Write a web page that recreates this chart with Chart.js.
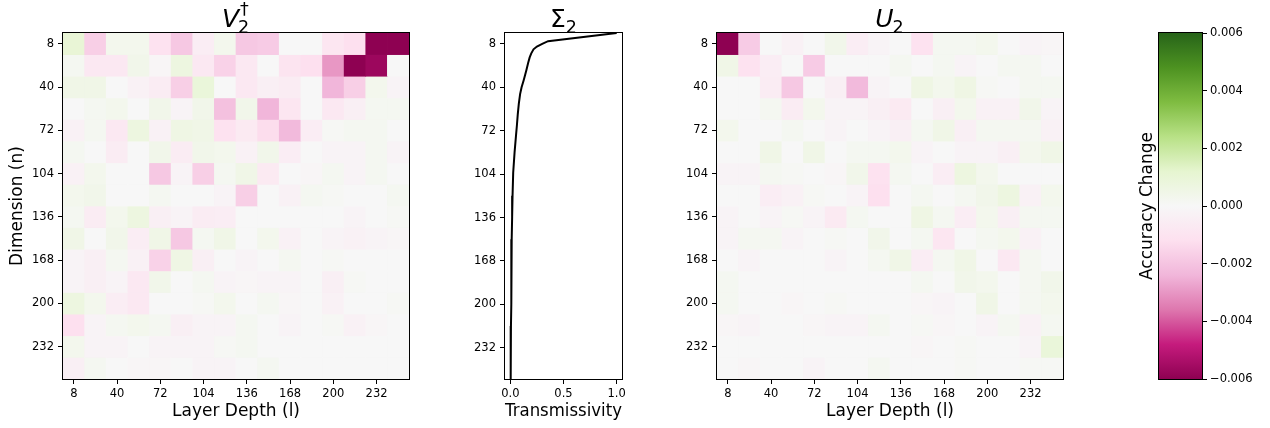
<!DOCTYPE html>
<html><head><meta charset="utf-8">
<script src="https://cdn.jsdelivr.net/npm/chart.js@4.4.1/dist/chart.umd.min.js"></script>
<style>
html,body{margin:0;padding:0;background:#fff;width:1270px;height:428px;overflow:hidden;}
canvas{position:absolute;top:0;}
</style></head><body>
<canvas id="c1" width="420" height="428" style="left:0px"></canvas>
<canvas id="c2" width="205" height="428" style="left:430px"></canvas>
<canvas id="c3" width="430" height="428" style="left:645px"></canvas>
<canvas id="c4" width="150" height="428" style="left:1120px"></canvas>
<script>
// ---------- data ----------
const layerLabels = ['8','24','40','56','72','88','104','120','136','152','168','184','200','216','232','248'];
const layerTicks = [8,40,72,104,136,168,200,232];
const dimTicks = [8,40,72,104,136,168,200,232];
const cellSize = 16;
const dimMax = 256;

// V2-dagger heatmap: rows = dimension (n), cols = layer depth (l)
const v2Rows = [
  [0.0010,-0.0017,0.0003,0.0003,-0.0011,-0.0019,-0.0005,0.0003,-0.0019,-0.0018,0,0,-0.0009,-0.0012,-0.0060,-0.0060],
  [0.0002,-0.0008,-0.0008,0.0004,-0.0001,0.0007,-0.0008,-0.0016,-0.0008,0,-0.0010,-0.0012,-0.0030,-0.0060,-0.0057,0],
  [0.0005,0.0005,0,-0.0003,-0.0006,-0.0017,0.0009,0,-0.0008,-0.0004,-0.0006,0,-0.0024,-0.0017,0.0003,-0.0002],
  [0,0.0002,0.0003,0,0.0004,-0.0002,0.0004,-0.0021,0.0004,-0.0024,-0.0009,0,-0.0008,-0.0004,0.0002,0.0002],
  [-0.0003,0.0002,-0.0008,0.0007,-0.0003,0.0006,0.0005,-0.0011,-0.0007,-0.0013,-0.0023,-0.0005,0.0001,0.0002,0.0002,0],
  [0.0002,0,-0.0006,0,0.0004,-0.0006,0.0004,0.0003,-0.0003,0.0004,-0.0005,0,-0.0002,-0.0002,0.0002,-0.0002],
  [-0.0003,0.0003,0,0,-0.0019,-0.0002,-0.0017,0.0002,0.0005,-0.0007,0,-0.0001,0.0002,-0.0002,0.0002,0],
  [0.0003,0.0004,0,0,0.0002,0,0,-0.0002,-0.0017,0,-0.0003,0.0002,0.0001,0,0,0.0002],
  [0.0002,-0.0006,0.0003,0.0007,-0.0004,-0.0002,-0.0006,-0.0005,0,0,0,0,0,-0.0002,0,0.0001],
  [0.0005,0,0.0004,-0.0005,0.0005,-0.0019,0.0002,0.0005,0,0.0003,-0.0003,0,-0.0002,-0.0003,-0.0002,-0.0001],
  [-0.0002,-0.0004,0.0002,-0.0003,-0.0016,0.0006,-0.0004,0,-0.0002,0,0.0002,0,0.0001,0,0,0],
  [-0.0002,-0.0004,-0.0002,-0.0008,0.0004,0,0.0002,-0.0002,-0.0001,-0.0002,-0.0002,0,-0.0004,0.0001,0,0],
  [0.0007,0.0003,-0.0005,-0.0008,0,0,0.0001,0.0003,0,0.0002,-0.0001,0,-0.0003,0,0,0.0001],
  [-0.0012,-0.0002,0.0002,0.0003,0.0002,-0.0004,-0.0002,-0.0002,0.0002,0,-0.0002,0,0.0001,-0.0003,-0.0001,0],
  [0.0003,-0.0002,-0.0002,0,-0.0002,-0.0002,-0.0002,0.0001,0.0002,0,0,0,0,0,0,0],
  [-0.0004,0.0002,0,-0.0001,-0.0001,0,-0.0002,-0.0002,0,0.0002,0,0,0,0,0,0]
];

// U2 heatmap
const u2Rows = [
  [-0.0060,-0.0018,0,-0.0003,0,0.0004,-0.0005,-0.0002,0,-0.0011,0.0002,0.0002,0.0003,0,-0.0002,-0.0001],
  [0.0005,-0.0011,-0.0005,0,-0.0018,0,0,0,0.0002,0,0.0002,-0.0002,0,0.0002,0.0002,0],
  [0,0,-0.0006,-0.0019,0,-0.0004,-0.0023,-0.0002,0,0.0006,0.0003,0.0006,0.0001,0,0.0002,0.0002],
  [0,0,0.0002,-0.0006,0.0003,-0.0002,-0.0002,-0.0004,-0.0007,0,-0.0004,0.0003,-0.0003,-0.0003,0.0004,-0.0002],
  [0.0003,0,0,0.0002,0,-0.0002,0,-0.0002,-0.0004,0.0002,0.0005,-0.0004,0.0002,0.0002,0.0002,-0.0003],
  [0,0,0.0005,0,0.0005,0,0.0002,0.0002,0.0003,-0.0002,0,-0.0002,-0.0002,-0.0004,0.0003,0.0005],
  [-0.0002,-0.0002,0.0002,0.0001,0,-0.0001,0.0004,-0.0011,0.0002,0,-0.0005,0.0007,0.0003,0,0,0],
  [0,0,-0.0005,-0.0003,0.0001,0,-0.0002,-0.0012,0,0.0002,0,0.0002,0.0004,0.0007,-0.0003,0.0003],
  [-0.0002,0,-0.0002,0.0001,-0.0002,-0.0007,0.0002,0,0,0.0006,0.0002,-0.0005,0.0003,-0.0004,0.0002,0.0002],
  [-0.0002,0.0002,0.0002,-0.0002,0,0.0001,0,0.0004,0,0.0002,-0.0009,0,0.0002,0.0003,-0.0003,0],
  [0,-0.0002,0,0,0,-0.0002,0,0.0002,0.0005,-0.0005,0.0002,0.0005,0,-0.0008,0.0002,0],
  [0.0002,0,0,0,0,0,0,0,0,0.0002,0,0.0004,0.0003,0,0.0002,0.0004],
  [0.0002,0,0,-0.0001,0,0.0001,0,0,0,-0.0001,-0.0002,0,0.0005,0,0.0002,0.0003],
  [-0.0001,-0.0002,0,0,-0.0001,-0.0002,-0.0002,0.0002,0,0.0001,-0.0001,0,-0.0002,0.0002,-0.0003,0.0002],
  [0,0,0,0,0,0,0,0,0,-0.0001,0,0.0001,0,0,-0.0002,0.0009],
  [0,-0.0001,0,0,-0.0002,0,0,0.0002,0,0,0,0.0001,0,0,0.0001,0.0001]
];

// Sigma2 transmissivity curve
const sigmaDims   = [0, 6, 8, 10, 12, 15, 18, 22, 27, 31, 35, 40, 45, 52, 60, 68, 76, 88, 103, 120, 136, 152, 168, 184, 200, 216, 232, 255];
const sigmaValues = [1.0, 0.355, 0.30, 0.25, 0.218, 0.197, 0.182, 0.168, 0.152, 0.139, 0.125, 0.106, 0.092, 0.080, 0.070, 0.062, 0.053, 0.040, 0.027, 0.021, 0.017, 0.013, 0.011, 0.009, 0.008, 0.006, 0.005, 0.002];
const sigmaXTicks = [0, 0.5, 1.0];

// colour bar
const cbarTicks = [-0.006, -0.004, -0.002, 0, 0.002, 0.004, 0.006];

// ---------- colormap (PiYG) ----------
const piygHex = ['#8e0152','#c51b7d','#de77ae','#f1b6da','#fde0ef','#f7f7f7','#e6f5d0','#b8e186','#7fbc41','#4d9221','#276419'];
const vmin = cbarTicks[0], vmax = cbarTicks[cbarTicks.length - 1];
function hexRgb(h){ return [parseInt(h.slice(1,3),16), parseInt(h.slice(3,5),16), parseInt(h.slice(5,7),16)]; }
function piyg(v){
  let t = (v - vmin) / (vmax - vmin);
  t = Math.min(1, Math.max(0, t));
  const p = t * 10;
  const i = Math.min(9, Math.floor(p));
  const f = p - i;
  const a = hexRgb(piygHex[i]), b = hexRgb(piygHex[i+1]);
  const c = a.map((x, k) => Math.round(x + (b[k] - x) * f));
  return `rgb(${c[0]},${c[1]},${c[2]})`;
}

// ---------- common ----------
Chart.defaults.font.family = '"DejaVu Sans"';
Chart.defaults.color = '#000';
const tickFont = {family: '"DejaVu Sans"', size: 11.5};
const labelFont = {family: '"DejaVu Sans"', size: 17};

const framePlugin = {
  id: 'frame',
  afterDraw(chart){
    const a = chart.chartArea, ctx = chart.ctx;
    ctx.save();
    ctx.strokeStyle = '#000';
    ctx.lineWidth = 1;
    ctx.strokeRect(Math.round(a.left) - 0.5, Math.round(a.top) - 0.5, Math.round(a.right) - Math.round(a.left) + 1, Math.round(a.bottom) - Math.round(a.top) + 1);
    ctx.restore();
  }
};

function mathTitle(main, italic, sub, sup){
  return {
    id: 'mathTitle',
    afterDraw(chart){
      const ctx = chart.ctx, a = chart.chartArea;
      ctx.save();
      ctx.fillStyle = '#000';
      ctx.textBaseline = 'alphabetic';
      ctx.textAlign = 'left';
      const mainFont = (italic ? 'italic ' : '') + '25px "DejaVu Sans"';
      const smallFont = '17.5px "DejaVu Sans"';
      ctx.font = mainFont;
      const mw = ctx.measureText(main).width;
      ctx.font = smallFont;
      const sw = Math.max(ctx.measureText(sub).width, sup ? ctx.measureText(sup).width : 0);
      const total = mw + sw;
      const x = (a.left + a.right) / 2 - total / 2;
      ctx.font = mainFont;
      ctx.fillText(main, x, 26.5);
      ctx.font = smallFont;
      ctx.fillText(sub, x + mw - (italic ? 1 : 0), 32.5);
      if (sup) ctx.fillText(sup, x + mw + 1, 15);
      ctx.restore();
    }
  };
}

function tickGrid(){
  return {display: true, drawOnChartArea: false, drawTicks: true, tickLength: 5, color: '#000', lineWidth: 1, offset: false};
}

function heatmap(id, rows, yAxisWidth, rightPad, yTitle, titlePlugin){
  const datasets = rows.map((row, r) => ({
    label: 'n' + r,
    data: row.map(() => cellSize),
    backgroundColor: row.map(v => piyg(v)),
    borderWidth: 0,
    categoryPercentage: 1,
    barPercentage: 1
  }));
  return new Chart(document.getElementById(id), {
    type: 'bar',
    data: {labels: layerLabels, datasets},
    options: {
      responsive: false, maintainAspectRatio: false, animation: false, events: [],
      layout: {padding: {top: 33, right: rightPad, left: 0, bottom: 0}},
      plugins: {legend: {display: false}, tooltip: {enabled: false}, title: {display: false}},
      scales: {
        x: {
          type: 'category', stacked: true, offset: true,
          grid: tickGrid(),
          border: {display: false},
          ticks: {font: tickFont, color: '#000', padding: 3, maxRotation: 0, autoSkip: false},
          afterBuildTicks: s => { s.ticks = s.ticks.filter(t => layerTicks.includes(+layerLabels[t.value])); },
          afterFit: s => { s.height = 49; },
          title: {display: true, text: 'Layer Depth (l)', font: labelFont, color: '#000', padding: {top: 0, bottom: 6}}
        },
        y: {
          type: 'linear', stacked: true, reverse: true, min: 0, max: dimMax,
          grid: tickGrid(),
          border: {display: false},
          ticks: {font: tickFont, color: '#000', padding: 4},
          afterBuildTicks: s => { s.ticks = dimTicks.map(v => ({value: v})); },
          afterFit: s => { s.width = yAxisWidth; },
          title: {display: !!yTitle, text: yTitle || '', font: labelFont, color: '#000', padding: {top: 7, bottom: 0}}
        }
      }
    },
    plugins: [framePlugin, titlePlugin]
  });
}

heatmap('c1', v2Rows, 63, 11, 'Dimension (n)', mathTitle('V', true, '2', '\u2020'));
heatmap('c3', u2Rows, 72, 12, null, mathTitle('U', true, '2', null));

// Sigma line plot
new Chart(document.getElementById('c2'), {
  type: 'scatter',
  data: {datasets: [{
    data: sigmaDims.map((d, i) => ({x: sigmaValues[i], y: d})),
    showLine: true, borderColor: '#000', borderWidth: 2, pointRadius: 0, tension: 0, fill: false
  }]},
  options: {
    responsive: false, maintainAspectRatio: false, animation: false, events: [],
    layout: {padding: {top: 33, right: 13, left: 0, bottom: 0}},
    plugins: {legend: {display: false}, tooltip: {enabled: false}},
    scales: {
      x: {
        type: 'linear', min: -0.05, max: 1.05,
        grid: tickGrid(), border: {display: false},
        ticks: {font: tickFont, color: '#000', padding: 3, maxRotation: 0, callback: v => Number(v).toFixed(1)},
        afterBuildTicks: s => { s.ticks = sigmaXTicks.map(v => ({value: v})); },
        afterFit: s => { s.height = 49; },
        title: {display: true, text: 'Transmissivity', font: labelFont, color: '#000', padding: {top: 0, bottom: 6}}
      },
      y: {
        type: 'linear', reverse: true, min: 0, max: 255,
        grid: tickGrid(), border: {display: false},
        ticks: {font: tickFont, color: '#000', padding: 4},
        afterBuildTicks: s => { s.ticks = dimTicks.map(v => ({value: v})); },
        afterFit: s => { s.width = 75; }
      }
    }
  },
  plugins: [framePlugin, mathTitle('\u03A3', false, '2', null)]
});

// Colour bar
new Chart(document.getElementById('c4'), {
  type: 'bar',
  data: {labels: ['cbar'], datasets: [{
    data: [[vmin, vmax]],
    categoryPercentage: 1, barPercentage: 1, borderWidth: 0,
    backgroundColor: (ctx) => {
      const chart = ctx.chart;
      if (!chart.chartArea) return '#f7f7f7';
      const y = chart.scales.y;
      const g = chart.ctx.createLinearGradient(0, y.getPixelForValue(vmin), 0, y.getPixelForValue(vmax));
      piygHex.forEach((c, i) => g.addColorStop(i / (piygHex.length - 1), c));
      return g;
    }
  }]},
  options: {
    responsive: false, maintainAspectRatio: false, animation: false, events: [],
    layout: {padding: {top: 33, right: 0, left: 0, bottom: 49}},
    plugins: {legend: {display: false}, tooltip: {enabled: false}},
    scales: {
      x: {type: 'category', display: false, offset: true},
      y: {
        type: 'linear', position: 'right', min: vmin, max: vmax,
        grid: tickGrid(), border: {display: false},
        ticks: {font: tickFont, color: '#000', padding: 3,
          callback: v => (v < 0 ? '\u2212' : '') + Math.abs(v).toFixed(3)},
        afterBuildTicks: s => { s.ticks = cbarTicks.map(v => ({value: v})); },
        afterFit: s => { s.width = 68; }
      },
      yl: {
        type: 'linear', position: 'left', min: vmin, max: vmax,
        grid: {display: false}, border: {display: false},
        ticks: {display: false},
        afterFit: s => { s.width = 39; },
        title: {display: true, text: 'Accuracy Change', font: labelFont, color: '#000', padding: {top: 17, bottom: 0}}
      }
    }
  },
  plugins: [framePlugin]
});
</script>
</body></html>
